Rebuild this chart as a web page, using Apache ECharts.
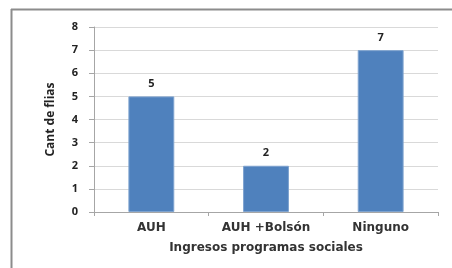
<!DOCTYPE html>
<html>
<head>
<meta charset="utf-8">
<script src="https://cdn.jsdelivr.net/npm/echarts@6/dist/echarts.min.js"></script>
<style>
  html, body { margin: 0; padding: 0; background: #fff; }
  #chart { width: 452px; height: 268px; }
</style>
</head>
<body>
<div id="chart"></div>
<script>
const categories = ['AUH', 'AUH +Bolsón', 'Ninguno']
const families = [5, 2, 7]
const yTicks = [0, 1, 2, 3, 4, 5, 6, 7, 8]

const FONT = 'Open Sans'
const WIDE = 'DejaVu Sans'
const axisGray = '#a6a6a6'

const chart = echarts.init(document.getElementById('chart'))

chart.setOption({
  animation: false,
  backgroundColor: '#fff',
  graphic: [
    { type: 'line', shape: { x1: 11, y1: 9.5, x2: 452, y2: 9.5 }, style: { stroke: '#8c8c8c', lineWidth: 2 } },
    { type: 'line', shape: { x1: 11.5, y1: 9, x2: 11.5, y2: 268 }, style: { stroke: '#8c8c8c', lineWidth: 2 } }
  ],
  grid: { left: 94, right: 14, top: 27, bottom: 56 },
  xAxis: {
    type: 'category',
    data: categories,
    name: 'Ingresos programas sociales',
    nameLocation: 'middle',
    nameGap: 30,
    nameTextStyle: { fontFamily: WIDE, fontSize: 12, fontWeight: 'bold', color: '#333' },
    axisLine: { lineStyle: { color: axisGray } },
    axisTick: { show: true, length: 4, lineStyle: { color: axisGray } },
    axisLabel: { interval: 0, fontFamily: WIDE, fontSize: 12, fontWeight: 'bold', color: '#333', margin: 10 }
  },
  yAxis: {
    type: 'value',
    min: yTicks[0],
    max: yTicks[yTicks.length - 1],
    interval: 1,
    name: 'Cant de flias',
    nameLocation: 'middle',
    nameGap: 37,
    nameTextStyle: { fontFamily: FONT, fontSize: 12, fontWeight: 'bold', color: '#222' },
    axisLine: { show: true, lineStyle: { color: axisGray } },
    axisTick: { show: true, length: 5, lineStyle: { color: axisGray } },
    axisLabel: { fontFamily: FONT, fontSize: 11, fontWeight: 'bold', color: '#222', margin: 16 },
    splitLine: { lineStyle: { color: '#d9d9d9', width: 1 } }
  },
  series: [{
    type: 'bar',
    data: families,
    barWidth: '40%',
    itemStyle: { color: '#4f81bd', borderColor: '#7ea3cf', borderWidth: 1 },
    label: {
      show: true,
      position: 'top',
      distance: 7,
      fontFamily: FONT,
      fontSize: 11,
      fontWeight: 'bold',
      color: '#222'
    }
  }]
})
</script>
</body>
</html>
